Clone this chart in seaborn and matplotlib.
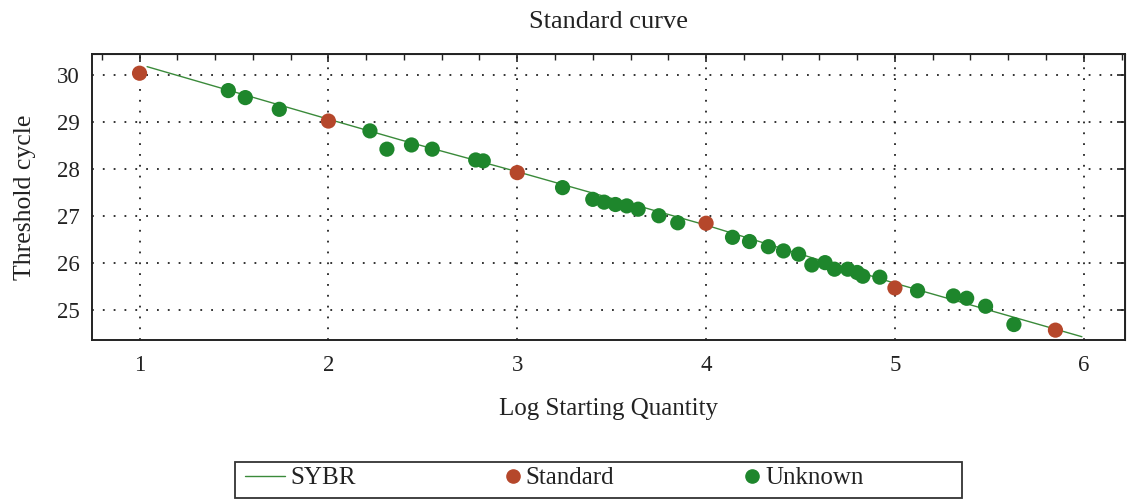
import numpy as np
import pandas as pd
import matplotlib
matplotlib.use('Agg')
import matplotlib.pyplot as plt
import seaborn as sns
from matplotlib.lines import Line2D
from matplotlib.patches import Rectangle
from matplotlib.ticker import MultipleLocator

# standards (known dilutions)
std_x = [1.0, 2.0, 3.0, 4.0, 5.0, 5.85]
std_y = [30.04, 29.02, 27.92, 26.84, 25.46, 24.56]

# unknown samples
unk_x = [1.47, 1.56, 1.74, 2.22, 2.31, 2.44, 2.55, 2.78, 2.82, 3.24, 3.40, 3.46,
         3.52, 3.58, 3.64, 3.75, 3.85, 4.14, 4.23, 4.33, 4.41, 4.49, 4.56, 4.63,
         4.68, 4.75, 4.80, 4.83, 4.92, 5.12, 5.31, 5.38, 5.48, 5.63]
unk_y = [29.67, 29.52, 29.27, 28.81, 28.42, 28.51, 28.42, 28.19, 28.17, 27.60,
         27.35, 27.29, 27.24, 27.21, 27.14, 27.00, 26.85, 26.54, 26.45, 26.34,
         26.25, 26.18, 25.95, 26.00, 25.86, 25.86, 25.79, 25.71, 25.69, 25.40,
         25.29, 25.24, 25.07, 24.68]

# SYBR standard curve line
line_x = [1.04, 2.0, 2.38, 3.0, 4.0, 5.0, 5.99]
line_y = [30.18, 29.06, 28.62, 27.94, 26.80, 25.56, 24.42]

legend_labels = ['SYBR', 'Standard', 'Unknown']

std_color = '#b5472b'
unk_color = '#1e862c'
line_color = '#3a8a3a'
ink = '#222222'

pts = pd.DataFrame({
    'x': std_x + unk_x,
    'y': std_y + unk_y,
    'Type': ['Standard'] * len(std_x) + ['Unknown'] * len(unk_x),
})
line_df = pd.DataFrame({'x': line_x, 'y': line_y})

sns.set_style('white')
plt.rcParams['font.family'] = ['Liberation Serif', 'DejaVu Serif']

fig = plt.figure(figsize=(11.27, 5.0), dpi=100)
ax = fig.add_axes([0.0816, 0.32, 0.9164, 0.572])

sns.lineplot(data=line_df, x='x', y='y', ax=ax, color=line_color, linewidth=1.0,
             sort=False, estimator=None, zorder=2)
sns.scatterplot(data=pts, x='x', y='y', hue='Type', ax=ax,
                palette={'Standard': std_color, 'Unknown': unk_color},
                hue_order=['Unknown', 'Standard'],
                s=120, edgecolor='none', legend=False, zorder=3)

ax.set_xlim(0.748, 6.217)
ax.set_ylim(24.35, 30.45)
ax.xaxis.set_major_locator(MultipleLocator(1))
ax.xaxis.set_minor_locator(MultipleLocator(0.2))
ax.yaxis.set_major_locator(MultipleLocator(1))
ax.yaxis.set_minor_locator(MultipleLocator(0.2))

ax.grid(True, which='major', color=ink, linestyle=(0, (1, 5)), linewidth=1.3)
ax.tick_params(which='major', direction='inout', length=12, width=1.2,
               labelsize=16.5, colors=ink, pad=3)
ax.tick_params(which='minor', direction='inout', length=8, width=1.0, colors=ink)
ax.tick_params(axis='x', which='major', pad=5)
for sp in ax.spines.values():
    sp.set_visible(True)
    sp.set_color(ink)
    sp.set_linewidth(1.4)

# inward ticks on top and right
top = ax.secondary_xaxis('top')
top.xaxis.set_major_locator(MultipleLocator(1))
top.xaxis.set_minor_locator(MultipleLocator(0.2))
top.tick_params(which='major', direction='in', length=6, width=1.2, colors=ink, labeltop=False)
top.tick_params(which='minor', direction='in', length=4, width=1.0, colors=ink)
right = ax.secondary_yaxis('right')
right.yaxis.set_major_locator(MultipleLocator(1))
right.yaxis.set_minor_locator(MultipleLocator(0.2))
right.tick_params(which='major', direction='in', length=6, width=1.2, colors=ink, labelright=False)
right.tick_params(which='minor', direction='in', length=0, colors=ink)

ax.set_title('Standard curve', fontsize=19, pad=19, color=ink)
ax.set_xlabel('Log Starting Quantity', fontsize=18, labelpad=16, color=ink)
ax.set_ylabel('Threshold cycle', fontsize=18.5, labelpad=15, color=ink)

# legend with its own frame, three entries placed along it
fig.patches.append(Rectangle((235 / 1127, 0.004), 727 / 1127, 0.072,
                             transform=fig.transFigure, fill=False,
                             edgecolor='#333333', linewidth=1.3))
handles = [
    Line2D([], [], color=line_color, linewidth=1.0),
    Line2D([], [], marker='o', linestyle='none', color=std_color, markersize=9.5),
    Line2D([], [], marker='o', linestyle='none', color=unk_color, markersize=9.5),
]
starts = [245, 505, 745]
hlen = [1.6, 0.6, 0.6]
for h, lab, x0, hl in zip(handles, legend_labels, starts, hlen):
    leg = fig.legend([h], [lab], frameon=False, loc='center left',
                     bbox_to_anchor=(x0 / 1127, 0.044), fontsize=18,
                     handlelength=hl, handletextpad=0.2, borderpad=0,
                     borderaxespad=0)
    for t in leg.get_texts():
        t.set_color(ink)

fig.savefig('out.png', dpi=100)
